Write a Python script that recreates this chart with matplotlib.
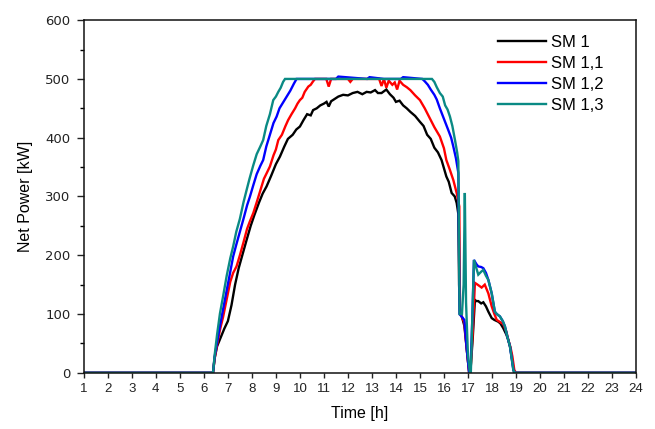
import matplotlib
matplotlib.use("Agg")
import matplotlib.pyplot as plt
from matplotlib.ticker import MultipleLocator

plt.rcParams['font.family'] = ['Liberation Sans', 'DejaVu Sans']

labels = ["SM 1", "SM 1,1", "SM 1,2", "SM 1,3"]
colors = ["#000000", "#ff0000", "#0000ff", "#0a8a84"]

# SM 1
t_b = [1, 6.38, 6.45, 6.55, 6.7, 6.85, 7.0, 7.15, 7.3, 7.45, 7.6, 7.78, 7.95, 8.1, 8.3, 8.45,
       8.61, 8.8, 9.0, 9.17, 9.35, 9.5, 9.7, 9.85, 10.0, 10.15, 10.3, 10.45, 10.55, 10.7, 10.85,
       11.0, 11.11, 11.2, 11.3, 11.45, 11.6, 11.8, 12.0, 12.2, 12.4, 12.6, 12.78, 12.95, 13.13,
       13.25, 13.4, 13.6, 13.75, 13.9, 14.0, 14.15, 14.3, 14.45, 14.6, 14.8, 15.0, 15.15, 15.3,
       15.45, 15.6, 15.75, 15.9, 16.1, 16.2, 16.32, 16.45, 16.53, 16.6, 16.63, 16.67, 16.75,
       16.85, 16.95, 17.05, 17.1, 17.2, 17.29, 17.35, 17.43, 17.55, 17.64, 17.75, 17.85, 17.99,
       18.1, 18.26, 18.35, 18.47, 18.6, 18.68, 18.75, 18.82, 18.92, 19.0, 24]
p_b = [0, 0, 25, 45, 60, 75, 88, 115, 150, 178, 200, 226, 250, 268, 290, 305,
       317, 335, 355, 368, 385, 398, 405, 414, 419, 430, 440, 438, 447, 450, 455,
       458, 461, 453, 462, 466, 470, 473, 472, 476, 478, 474, 478, 477, 481,
       476, 476, 482, 474, 468, 461, 463, 455, 450, 444, 437, 427, 420, 405,
       398, 383, 375, 362, 334, 325, 306, 300, 289, 270, 150, 101, 95,
       80, 40, 0, 0, 60, 124, 122, 122, 118, 120, 113, 104, 93,
       90, 87, 84, 76, 65, 56, 45, 28, 0, 0, 0]

# SM 1,1
t_r = [1, 6.38, 6.45, 6.55, 6.67, 6.8, 6.95, 7.1, 7.22, 7.36, 7.5, 7.65, 7.8, 7.92, 8.06, 8.2,
       8.35, 8.5, 8.62, 8.75, 8.9, 9.0, 9.1, 9.25, 9.4, 9.51, 9.65, 9.8, 9.9, 10.0, 10.1, 10.2,
       10.35, 10.45, 10.55, 10.63, 11.1, 11.2, 11.3, 12.0, 12.1, 12.2, 13.3, 13.4, 13.5, 13.6,
       13.7, 13.85, 13.95, 14.05, 14.15, 14.3, 14.45, 14.6, 14.8, 15.0, 15.2, 15.4, 15.6, 15.83,
       16.0, 16.1, 16.25, 16.39, 16.53, 16.64, 16.67, 16.75, 16.85, 16.95, 17.05, 17.1, 17.2,
       17.29, 17.4, 17.57, 17.7, 17.85, 17.99, 18.1, 18.2, 18.35, 18.47, 18.6, 18.68, 18.78,
       18.85, 18.93, 19.0, 24]
p_r = [0, 0, 25, 48, 73, 95, 125, 155, 170, 181, 200, 222, 245, 258, 272, 290,
       310, 330, 340, 351, 370, 380, 396, 405, 420, 430, 440, 450, 458, 464, 468, 478,
       487, 490, 496, 500, 500, 487, 500, 500, 495, 500, 500, 488, 500, 485,
       497, 490, 494, 482, 497, 490, 486, 481, 472, 464, 450, 434, 418, 402,
       382, 362, 345, 328, 306, 283, 100, 95, 85, 40, 0, 0, 70,
       153, 150, 145, 150, 135, 113, 100, 90, 86, 83, 70, 56, 42,
       28, 5, 0, 0]

# SM 1,2
t_u = [1, 6.38, 6.45, 6.55, 6.67, 6.8, 6.95, 7.1, 7.22, 7.35, 7.5, 7.65, 7.8, 7.92, 8.05, 8.2,
       8.35, 8.47, 8.6, 8.75, 8.9, 9.03, 9.15, 9.3, 9.45, 9.6, 9.75, 9.86, 11.5, 11.6, 12.8, 12.9,
       13.5, 14.2, 14.3, 15.1, 15.2, 15.33, 15.45, 15.6, 15.7, 15.83, 16.0, 16.18, 16.3, 16.39,
       16.5, 16.6, 16.65, 16.75, 16.85, 16.95, 17.05, 17.1, 17.18, 17.25, 17.35, 17.43, 17.55,
       17.64, 17.75, 17.85, 17.99, 18.12, 18.2, 18.33, 18.45, 18.54, 18.65, 18.75, 18.82, 18.89,
       18.95, 24]
p_u = [0, 0, 28, 52, 80, 108, 140, 172, 198, 218, 240, 262, 285, 300, 318, 338,
       352, 362, 385, 405, 425, 436, 450, 460, 470, 480, 492, 500, 500, 504, 500, 503,
       500, 500, 503, 500, 496, 490, 482, 473, 465, 450, 432, 413, 400, 385,
       365, 340, 100, 95, 90, 40, 0, 0, 90, 192, 185, 181, 180,
       178, 170, 158, 135, 104, 100, 96, 88, 79, 60, 45, 25, 5,
       0, 0]

# SM 1,3
t_g = [1, 6.38, 6.46, 6.55, 6.67, 6.8, 6.95, 7.1, 7.22, 7.35, 7.5, 7.65, 7.78, 7.9, 8.05, 8.2,
       8.35, 8.47, 8.6, 8.75, 8.89, 9.0, 9.1, 9.2, 9.3, 9.38, 15.5, 15.6, 15.7, 15.83, 15.95,
       16.05, 16.15, 16.25, 16.35, 16.46, 16.55, 16.6, 16.65, 16.75, 16.82, 16.87, 16.92, 17.0,
       17.08, 17.12, 17.18, 17.25, 17.35, 17.43, 17.55, 17.64, 17.75, 17.85, 17.99, 18.12, 18.2,
       18.33, 18.45, 18.54, 18.65, 18.75, 18.82, 18.89, 18.95, 24]
p_g = [0, 0, 34, 65, 101, 130, 165, 195, 215, 240, 262, 290, 311, 330, 352, 372,
       385, 396, 420, 440, 464, 470, 478, 485, 495, 500, 500, 495, 486, 476, 470,
       455, 448, 436, 420, 396, 375, 360, 100, 100, 150, 306, 120, 30,
       0, 0, 90, 192, 178, 167, 172, 175, 165, 158, 135, 104, 100,
       96, 88, 79, 60, 45, 25, 5, 0, 0]

series_t = [t_b, t_r, t_u, t_g]
series_p = [p_b, p_r, p_u, p_g]

x_ticks = list(range(1, 25))
y_ticks = [0, 100, 200, 300, 400, 500, 600]

fig = plt.figure(figsize=(6.55, 4.29), dpi=100)
ax = fig.add_axes([0.128, 0.131, 0.843, 0.822])

for t, p, c, lab in zip(series_t, series_p, colors, labels):
    ax.plot(t, p, color=c, lw=1.7, label=lab, solid_joinstyle='miter')

ax.set_xlim(1, 24)
ax.set_ylim(0, 600)
ax.set_xticks(x_ticks)
ax.set_yticks(y_ticks)
ax.yaxis.set_minor_locator(MultipleLocator(50))
ax.tick_params(axis='x', which='major', direction='out', length=3.5, width=1, colors='#222222')
ax.tick_params(axis='y', which='major', direction='out', length=5, width=1, colors='#222222', pad=4.5)
ax.tick_params(axis='y', which='minor', direction='out', length=3, width=1)
for lbl in ax.get_xticklabels():
    lbl.set_fontsize(9.5)
for lbl in ax.get_yticklabels():
    lbl.set_fontsize(9.5)
    lbl.set_family('DejaVu Sans')
for s in ax.spines.values():
    s.set_linewidth(1.1)
    s.set_color('#111111')

ax.set_xlabel("Time [h]", fontsize=11.5, labelpad=8)
ax.set_ylabel("Net Power [kW]", fontsize=11.5, labelpad=9)

leg = ax.legend(loc='upper left', bbox_to_anchor=(0.75, 0.957), frameon=False,
                borderaxespad=0, borderpad=0, fontsize=12, handlelength=2.9,
                handletextpad=0.3, labelspacing=0.36)

fig.savefig("out.png", dpi=100)
